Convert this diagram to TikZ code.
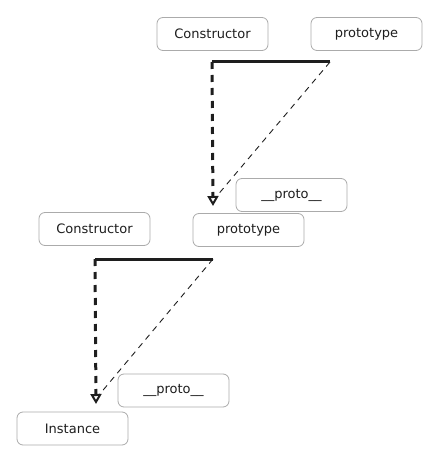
\documentclass[tikz,border=0pt]{standalone}
\usepackage{fontspec}
\setmainfont{DejaVu Sans}
\usetikzlibrary{arrows.meta}
\definecolor{ink}{HTML}{1E1E1E}
\definecolor{edge}{HTML}{ABABAB}
\tikzset{
  box/.style={draw=edge, line width=0.8pt, rounded corners=6pt, fill=white,
    minimum width=111pt, minimum height=33pt, inner sep=0pt,
    font=\fontsize{13}{15}\selectfont, text=ink},
  thickline/.style={draw=ink, line width=3pt},
  thickdash/.style={draw=ink, line width=3pt, dash pattern=on 7pt off 6pt,
    -{Triangle[open, length=10pt, width=11pt, line width=2pt]}},
  thindash/.style={draw=ink, line width=0.9pt, dash pattern=on 6pt off 5pt}
}
\begin{document}
\begin{tikzpicture}[x=1pt,y=-1pt]
\useasboundingbox (0,0) rectangle (439,462);
% top group
\node[box] (c1) at (212.5,34) {Constructor};
\node[box] (p1) at (366.5,34) {prototype};
\node[box] (pr1) at (291.5,195) {\_\_proto\_\_};
\node[box] (p2) at (248.5,230) {prototype};
% bottom group
\node[box] (c2) at (94.5,229) {Constructor};
\node[box] (pr2) at (173.5,390.5) {\_\_proto\_\_};
\node[box] (inst) at (72.5,428.5) {Instance};
% top connectors
\coordinate (a1) at (212,62);
\coordinate (b1) at (330,62);
\coordinate (t1) at (213,206);
\coordinate (t1b) at (216,197);
\draw[thickline] (b1) -- (a1);
\draw[thickdash] (a1) -- (t1);
\draw[thindash] (b1) -- (t1b);
% bottom connectors
\coordinate (a2) at (95,259);
\coordinate (b2) at (213,259);
\coordinate (t2) at (96,404);
\coordinate (t2b) at (99,395);
\draw[thickline] (b2) -- (a2);
\draw[thickdash] (a2) -- (t2);
\draw[thindash] (b2) -- (t2b);
\end{tikzpicture}
\end{document}
